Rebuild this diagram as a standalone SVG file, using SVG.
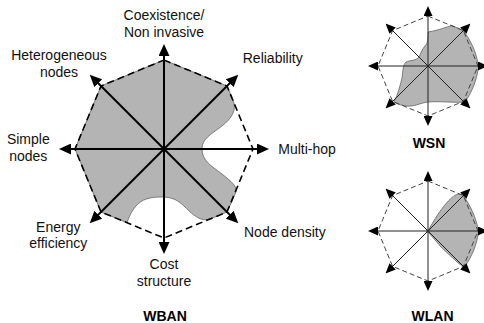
<svg xmlns="http://www.w3.org/2000/svg" width="484" height="323" viewBox="0 0 484 323">
<style>
.lbl{font-family:"Liberation Sans",Arial,sans-serif;font-size:14px;fill:#111}
.mid{text-anchor:middle}
.ttl{font-family:"Liberation Sans",Arial,sans-serif;font-size:14px;font-weight:bold;fill:#000;text-anchor:middle}
.fill{fill:#b4b4b4;stroke:#555;stroke-width:0.7}
.oct{fill:none;stroke:#000;stroke-width:1.6;stroke-dasharray:7 4}
.octs{fill:none;stroke:#444;stroke-width:1;stroke-dasharray:5 3}
.ax{stroke:#000;stroke-width:2;fill:none;marker-end:url(#ah)}
.axs{stroke:#222;stroke-width:1;fill:none;marker-end:url(#ahs)}
</style>
<defs>
<marker id="ah" viewBox="0 0 12 11" refX="6" refY="5.5" markerWidth="12" markerHeight="11" markerUnits="userSpaceOnUse" orient="auto">
<path d="M0,0 L12,5.5 L0,11 Z" fill="#000"/>
</marker>
<marker id="ahs" viewBox="0 0 10 9" refX="5" refY="4.5" markerWidth="10" markerHeight="9" markerUnits="userSpaceOnUse" orient="auto">
<path d="M0,0 L10,4.5 L0,9 Z" fill="#000"/>
</marker>
</defs>
<rect width="484" height="323" fill="#fff"/>

<g id="wban">
<path class="fill" d="M164,60 L227,86 L233,100 C237,110 232,118 222,126 C210,135 202,139 202,149 C202,160 210,165 222,174 C232,182 237,186 236,192 L227,212 L212,218.2 C202,223 194,216 185,207 C178,200 172,197 162,197 C150,197 142,199 136,206 C131,212 129,217 127,222.7 L101,212 L75,149 L101,86 Z"/>
<polygon class="oct" points="164,60 227,86 253,149 227,212 164,238 101,212 75,149 101,86"/>
<g id="wban-axes">
<line class="ax" x1="164" y1="149" x2="164" y2="50"/>
<line class="ax" x1="164" y1="149" x2="234" y2="79"/>
<line class="ax" x1="164" y1="149" x2="263" y2="149"/>
<line class="ax" x1="164" y1="149" x2="234" y2="219"/>
<line class="ax" x1="164" y1="149" x2="164" y2="248"/>
<line class="ax" x1="164" y1="149" x2="94" y2="219"/>
<line class="ax" x1="164" y1="149" x2="65" y2="149"/>
<line class="ax" x1="164" y1="149" x2="94" y2="79"/>
</g>
<g id="lbl-coexistence"><text class="lbl mid" x="164" y="20">Coexistence/</text><text class="lbl mid" x="164" y="36.5">Non invasive</text></g>
<g id="lbl-reliability"><text class="lbl mid" x="272.7" y="63">Reliability</text></g>
<g id="lbl-multihop"><text class="lbl" x="278.3" y="153.5">Multi-hop</text></g>
<g id="lbl-nodedensity"><text class="lbl" x="244" y="236.7">Node density</text></g>
<g id="lbl-cost"><text class="lbl mid" x="164" y="269.3">Cost</text><text class="lbl mid" x="164" y="286">structure</text></g>
<g id="lbl-energy"><text class="lbl mid" x="58.3" y="231.5">Energy</text><text class="lbl mid" x="58.3" y="247.5">efficiency</text></g>
<g id="lbl-simple"><text class="lbl mid" x="28.3" y="144">Simple</text><text class="lbl mid" x="28.3" y="161">nodes</text></g>
<g id="lbl-hetero"><text class="lbl mid" x="59" y="60">Heterogeneous</text><text class="lbl mid" x="59" y="77">nodes</text></g>
<text class="ttl" x="165" y="321">WBAN</text>
</g>

<g id="wsn">
<path class="fill" d="M428,32 C440,30 446,27 452,25.5 L463.4,30.6 C470,40 476,50 478.5,66 C477,80 472,92 465,102 C455,103 440,101 428,102 C420,103 414,107 406,106 C400,105 397,104 394,102 C398,94 400,86 402,78 C403,70 403,65 406,62 C410,60 416,61 419,57 C421,53 422,49 425,46 C428,43 428,38 428,32 Z"/>
<polygon class="octs" points="428,16 463.4,30.6 478,66 463.4,101.4 428,116 392.6,101.4 378,66 392.6,30.6"/>
<g id="wsn-axes">
<line class="axs" x1="428" y1="66" x2="428" y2="11"/>
<line class="axs" x1="428" y1="66" x2="466.9" y2="27.1"/>
<line class="axs" x1="428" y1="66" x2="483" y2="66"/>
<line class="axs" x1="428" y1="66" x2="466.9" y2="104.9"/>
<line class="axs" x1="428" y1="66" x2="428" y2="121"/>
<line class="axs" x1="428" y1="66" x2="389.1" y2="104.9"/>
<line class="axs" x1="428" y1="66" x2="373" y2="66"/>
<line class="axs" x1="428" y1="66" x2="389.1" y2="27.1"/>
</g>
<text class="ttl" x="429" y="148">WSN</text>
</g>

<g id="wlan">
<path class="fill" d="M428,231 C433,222 442,206 452,197.5 C456,194 460,193 463.4,195.6 C470,205 476,217 478.5,231 C477,245 472,256 465,266.5 C462,266 459,264 457,262 L441,247 L429,233 Z"/>
<polygon class="octs" points="428,181 463.4,195.6 478,231 463.4,266.4 428,281 392.6,266.4 378,231 392.6,195.6"/>
<g id="wlan-axes">
<line class="axs" x1="428" y1="231" x2="428" y2="176"/>
<line class="axs" x1="428" y1="231" x2="466.9" y2="192.1"/>
<line class="axs" x1="428" y1="231" x2="483" y2="231"/>
<line class="axs" x1="428" y1="231" x2="466.9" y2="269.9"/>
<line class="axs" x1="428" y1="231" x2="428" y2="286"/>
<line class="axs" x1="428" y1="231" x2="389.1" y2="269.9"/>
<line class="axs" x1="428" y1="231" x2="373" y2="231"/>
<line class="axs" x1="428" y1="231" x2="389.1" y2="192.1"/>
</g>
<circle cx="428" cy="231" r="1.6" fill="#333"/>
<text class="ttl" x="432.5" y="320.5">WLAN</text>
</g>
</svg>
